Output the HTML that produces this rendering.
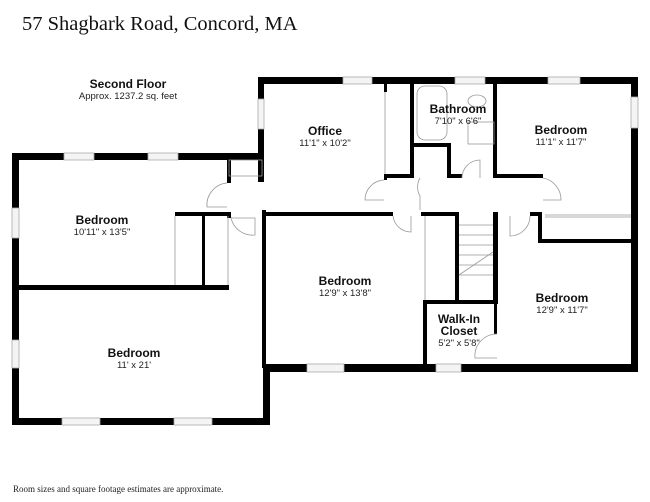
<!DOCTYPE html>
<html><head><meta charset="utf-8"><style>
html,body{margin:0;padding:0;background:#fff;}
svg{display:block;}
.t{font-family:"Liberation Sans",sans-serif;font-weight:bold;font-size:12px;fill:#111;text-anchor:middle;}
.s{font-family:"Liberation Sans",sans-serif;font-size:9.5px;fill:#222;text-anchor:middle;}
</style></head><body>
<svg width="650" height="502" viewBox="0 0 650 502">
<text x="22" y="30" font-family="Liberation Serif,serif" font-size="20.5" fill="#111">57 Shagbark Road, Concord, MA</text>
<text x="128" y="88" class="t" font-size="13">Second Floor</text>
<text x="128" y="99" class="s" font-size="7.5">Approx. 1237.2 sq. feet</text>
<g fill="#000">
<rect x="12" y="153" width="251" height="7"/>
<rect x="12" y="153" width="7" height="272"/>
<rect x="12" y="418" width="258" height="7"/>
<rect x="263" y="365" width="7" height="60"/>
<rect x="12" y="285" width="217" height="5"/>
<rect x="175" y="212" width="54" height="4"/>
<rect x="202" y="212" width="3" height="78"/>
<rect x="227" y="159" width="4" height="24"/>
<rect x="227" y="212" width="4" height="6"/>
<rect x="258" y="77" width="380" height="7"/>
<rect x="258" y="77" width="6" height="105"/>
<rect x="262" y="210" width="4" height="158"/>
<rect x="265" y="364" width="373" height="8"/>
<rect x="631" y="77" width="7" height="295"/>
<rect x="384" y="84" width="3" height="8"/>
<rect x="410" y="84" width="4" height="94"/>
<rect x="384" y="174" width="29" height="4"/>
<rect x="384" y="174" width="3" height="6"/>
<rect x="413" y="143" width="37" height="4"/>
<rect x="447" y="143" width="4" height="35"/>
<rect x="447" y="174" width="15" height="4"/>
<rect x="493" y="84" width="4" height="94"/>
<rect x="493" y="174" width="50" height="4"/>
<rect x="264" y="212" width="129" height="4"/>
<rect x="421" y="212" width="37" height="4"/>
<rect x="455" y="212" width="4" height="92"/>
<rect x="493" y="212" width="5" height="92"/>
<rect x="530" y="212" width="12" height="4"/>
<rect x="538" y="212" width="4" height="31"/>
<rect x="538" y="239" width="98" height="4"/>
<rect x="423" y="300" width="4" height="68"/>
<rect x="423" y="300" width="75" height="4"/>
<rect x="494" y="300" width="3" height="34"/>
</g>
<g fill="#f4f4f4" stroke="#aaa" stroke-width="0.8">
<rect x="64" y="153" width="30" height="7"/><rect x="148" y="153" width="30" height="7"/>
<rect x="12" y="208" width="7" height="30"/><rect x="12" y="340" width="7" height="28"/>
<rect x="62" y="418" width="38" height="7"/><rect x="174" y="418" width="38" height="7"/>
<rect x="307" y="364" width="37" height="8"/><rect x="436" y="364" width="25" height="8"/>
<rect x="258" y="99" width="6" height="30"/>
<rect x="343" y="77" width="29" height="7"/><rect x="455" y="77" width="30" height="7"/><rect x="548" y="77" width="32" height="7"/>
<rect x="631" y="97" width="7" height="31"/>
</g>
<g fill="none" stroke="#999" stroke-width="0.8">
<rect x="229" y="160" width="33" height="16"/>
<line x1="175" y1="216" x2="175" y2="285"/><line x1="228" y1="216" x2="228" y2="285"/>
<line x1="385" y1="92" x2="385" y2="174"/>
<line x1="425" y1="216" x2="425" y2="300"/>
<line x1="545" y1="215" x2="631" y2="215"/><line x1="545" y1="217" x2="631" y2="217"/>
<path d="M227 183 A22 22 0 0 0 207 207 L227 207"/>
<path d="M231 218 L255 218 L255 235 A22 22 0 0 1 231 218"/>
<path d="M384 180 A20 20 0 0 0 365 200 L384 200"/>
<path d="M393 216 A18 18 0 0 0 411 232 L411 216"/>
<path d="M420 178 A18 18 0 0 0 420 196 L420 210"/>
<path d="M462 178 A18 18 0 0 1 480 160 L480 178"/>
<path d="M543 178 A22 22 0 0 1 561 200 L543 200"/>
<path d="M530 216 A20 20 0 0 1 510 236 L510 216"/>
<path d="M497 334 A22 22 0 0 0 475 358 L497 358"/>
<line x1="459" y1="225" x2="493" y2="225"/><line x1="459" y1="235" x2="493" y2="235"/><line x1="459" y1="245" x2="493" y2="245"/><line x1="459" y1="255" x2="493" y2="255"/><line x1="459" y1="265" x2="493" y2="265"/><line x1="459" y1="275" x2="493" y2="275"/>
<line x1="459" y1="275" x2="493" y2="252"/>
<rect x="417" y="86" width="30" height="54" rx="8"/>
<ellipse cx="477" cy="101" rx="9" ry="6"/><rect x="468" y="122" width="26" height="22"/>
</g>
<text x="325" y="135" class="t">Office</text><text x="325" y="146" class="s">11'1" x 10'2"</text>
<text x="458" y="113" class="t">Bathroom</text><text x="458" y="124" class="s">7'10" x 6'6"</text>
<text x="561" y="134" class="t">Bedroom</text><text x="561" y="145" class="s">11'1" x 11'7"</text>
<text x="102" y="224" class="t">Bedroom</text><text x="102" y="235" class="s">10'11" x 13'5"</text>
<text x="345" y="285" class="t">Bedroom</text><text x="345" y="296" class="s">12'9" x 13'8"</text>
<text x="562" y="302" class="t">Bedroom</text><text x="562" y="313" class="s">12'9" x 11'7"</text>
<text x="459" y="323" class="t">Walk-In</text><text x="459" y="335" class="t">Closet</text><text x="459" y="346" class="s">5'2" x 5'8"</text>
<text x="134" y="357" class="t">Bedroom</text><text x="134" y="368" class="s">11' x 21'</text>
<text x="13" y="492" font-family="Liberation Serif,serif" font-size="9" fill="#222">Room sizes and square footage estimates are approximate.</text>
</svg>
</body></html>
